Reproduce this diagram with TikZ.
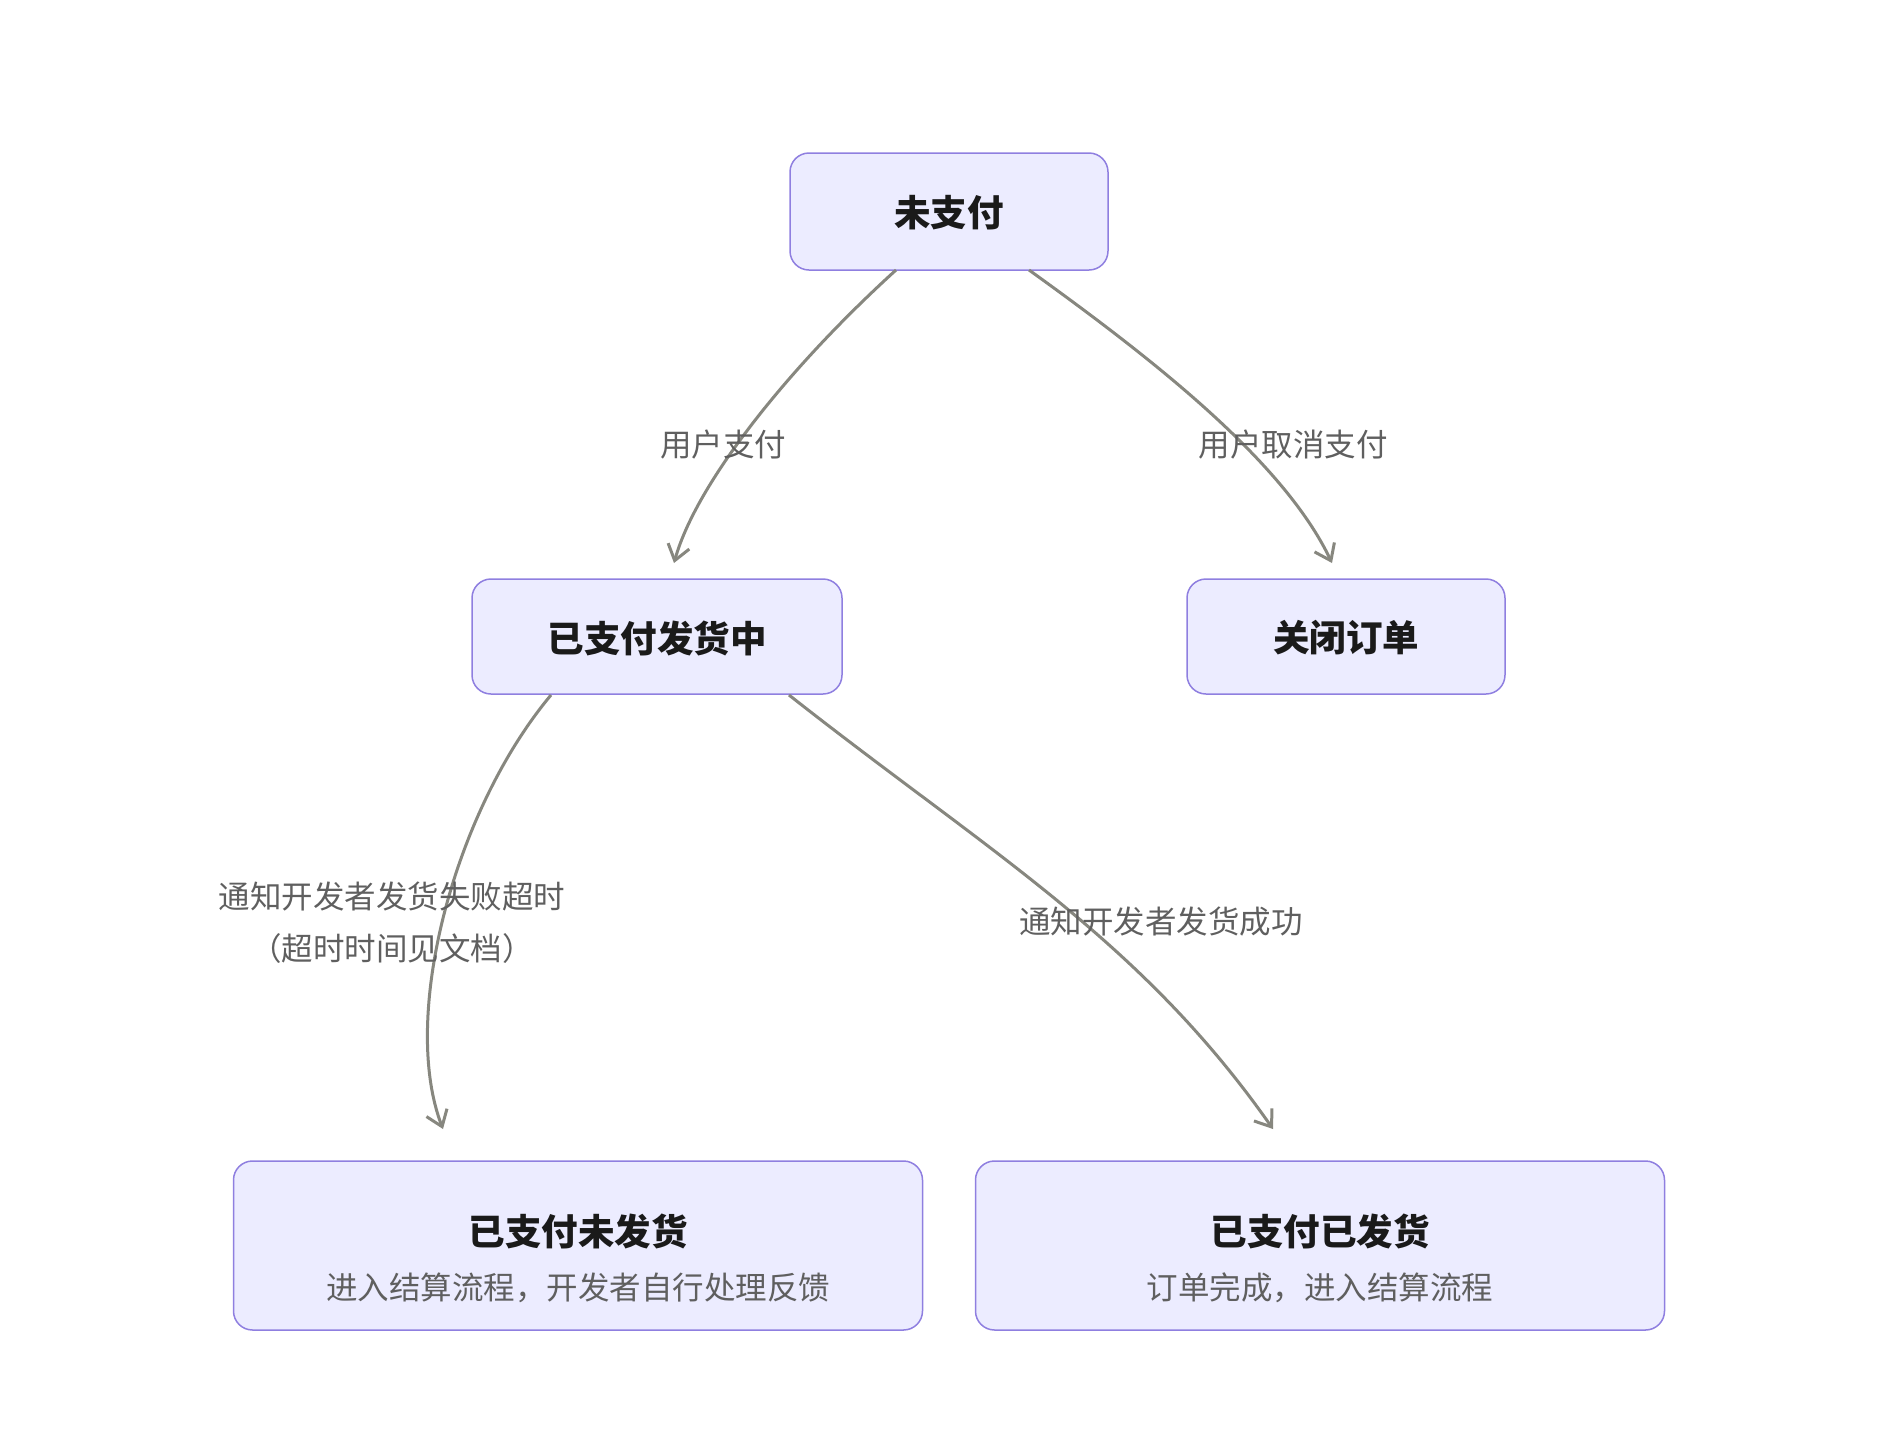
\documentclass[tikz,border=0pt]{standalone}
\usepackage{fontspec}
\setmainfont{Noto Sans CJK SC}
\newfontfamily\cjkb{Noto Sans CJK SC}[BoldFont={Noto Sans CJK SC Bold}]
\usetikzlibrary{arrows.meta}
\definecolor{boxfill}{HTML}{ECECFF}
\definecolor{boxline}{HTML}{8F7FE0}
\definecolor{edgecol}{HTML}{87877F}
\definecolor{labcol}{HTML}{5F5F5F}
\definecolor{titcol}{HTML}{1A1A1A}
\begin{document}
\begin{tikzpicture}[x=1pt,y=-1pt,
  statebox/.style={draw=boxline,fill=boxfill,line width=1.5pt,rounded corners=19pt,inner sep=0pt},
  titletext/.style={font=\fontsize{36.5}{44}\selectfont\bfseries,text=titcol},
  subtext/.style={font=\fontsize{31.5}{38}\selectfont,text=labcol},
  edgelab/.style={font=\fontsize{31.5}{52}\selectfont,text=labcol,align=center},
  conn/.style={draw=edgecol,line width=3pt,-{Straight Barb[length=15pt,width=22pt,line width=3pt]}}
]
\useasboundingbox (0,0) rectangle (1898,1444);

\node[statebox,minimum width=318pt,minimum height=117pt] (unpaid) at (949,211.5) {};
\node[titletext] (unpaidT) at (949,213) {未支付};

\node[statebox,minimum width=370pt,minimum height=115pt] (shipping) at (657,636.5) {};
\node[titletext] (shippingT) at (657,638) {已支付发货中};

\node[statebox,minimum width=318pt,minimum height=115pt] (closed) at (1346,636.5) {};
\node[titletext] (closedT) at (1346,638) {关闭订单};

\node[statebox,minimum width=689pt,minimum height=169pt] (notship) at (578,1245.5) {};
\node[titletext] (notshipT) at (578,1231) {已支付未发货};
\node[subtext] (notshipS) at (578,1288) {进入结算流程，开发者自行处理反馈};

\node[statebox,minimum width=689pt,minimum height=169pt] (shipped) at (1320,1245.5) {};
\node[titletext] (shippedT) at (1320,1231) {已支付已发货};
\node[subtext] (shippedS) at (1320,1288) {订单完成，进入结算流程};

\coordinate (e1s) at (896,270);
\coordinate (e1e) at (674,563);
\coordinate (e2s) at (1029,270);
\coordinate (e2e) at (1332,563);
\coordinate (e3s) at (551,695);
\coordinate (e3e) at (443,1129);
\coordinate (e4s) at (789,695);
\coordinate (e4e) at (1273,1129);

\draw[conn] (e1s) .. controls (787,369) and (696,484) .. (e1e);
\draw[conn] (e2s) .. controls (1150,357) and (1283,460) .. (e2e);
\draw[conn] (e3s) .. controls (454,811) and (400,1017) .. (e3e);
\draw[conn] (e4s) .. controls (987,851) and (1140,939) .. (e4e);

\node[edgelab] (l1) at (723,445) {用户支付};
\node[edgelab] (l2) at (1293,445) {用户取消支付};
\node[edgelab] (l3) at (392,923) {通知开发者发货失败超时\\（超时时间见文档）};
\node[edgelab] (l4) at (1161,922) {通知开发者发货成功};
\end{tikzpicture}
\end{document}
